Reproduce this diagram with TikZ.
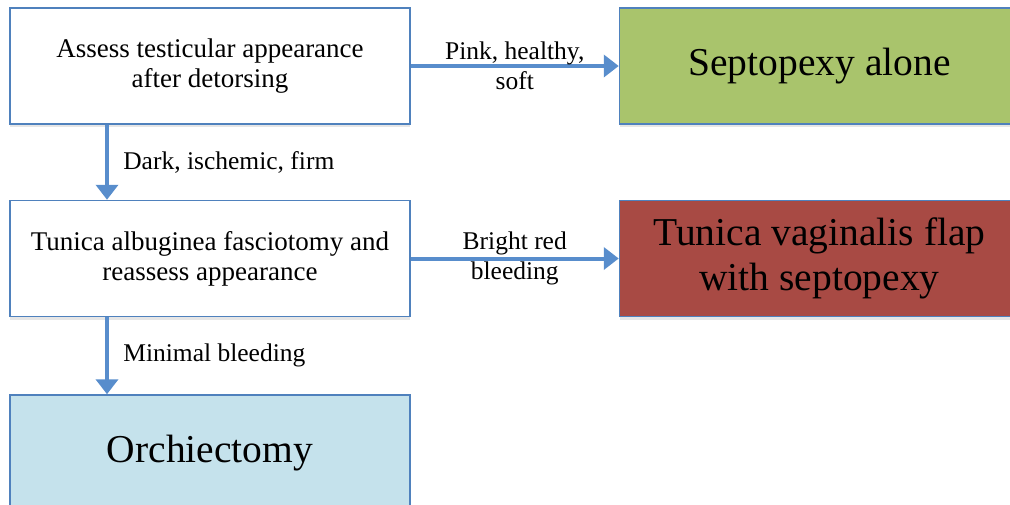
\documentclass[tikz,border=0pt]{standalone}
\usepackage{fontspec}
\setmainfont{Liberation Serif}
\usetikzlibrary{arrows.meta,positioning,shadows}
\definecolor{mborder}{RGB}{79,129,189}
\definecolor{marrow}{RGB}{88,141,204}
\definecolor{mgreen}{RGB}{169,196,108}
\definecolor{mred}{RGB}{168,74,68}
\definecolor{mlblue}{RGB}{197,226,236}

\begin{document}
\begin{tikzpicture}[
    box/.style={draw=mborder, line width=1.5pt, fill=white, minimum width=400pt,
                minimum height=116pt, align=center, font=\fontsize{27}{30}\selectfont,
                drop shadow={opacity=0.2, shadow xshift=0pt, shadow yshift=-3pt}},
    bigbox/.style={box, font=\fontsize{39.5}{45}\selectfont},
    arr/.style={-{Triangle[length=15pt,width=22pt]}, marrow, line width=4pt},
    lbl/.style={font=\fontsize{25.5}{30}\selectfont, align=center, text=black},
  ]
    \useasboundingbox (0,0) rectangle (1010pt,-504pt);
    \node[box] (assess) at (210pt,-66pt) {Assess testicular appearance\\after detorsing};
    \node[bigbox, right=208pt of assess, fill=mgreen] (alone) {Septopexy alone};
    \node[box, below=75pt of assess] (fascio) {Tunica albuginea fasciotomy and\\reassess appearance};
    \node[bigbox, right=208pt of fascio, fill=mred] (flap) {Tunica vaginalis flap\\with septopexy};
    \node[bigbox, below=77pt of fascio, fill=mlblue] (orchi) {Orchiectomy};
    \draw[arr] (assess) -- node[lbl] {Pink, healthy,\\soft} (alone);
    \draw[arr] (fascio) -- node[lbl] {Bright red\\bleeding} (flap);
    \draw[arr] ([xshift=-103pt]assess.south) -- node[lbl, right=11pt] {Dark, ischemic, firm} ([xshift=-103pt]fascio.north);
    \draw[arr] ([xshift=-103pt]fascio.south) -- node[lbl, right=11pt] {Minimal bleeding} ([xshift=-103pt]orchi.north);
  \end{tikzpicture}
\end{document}
